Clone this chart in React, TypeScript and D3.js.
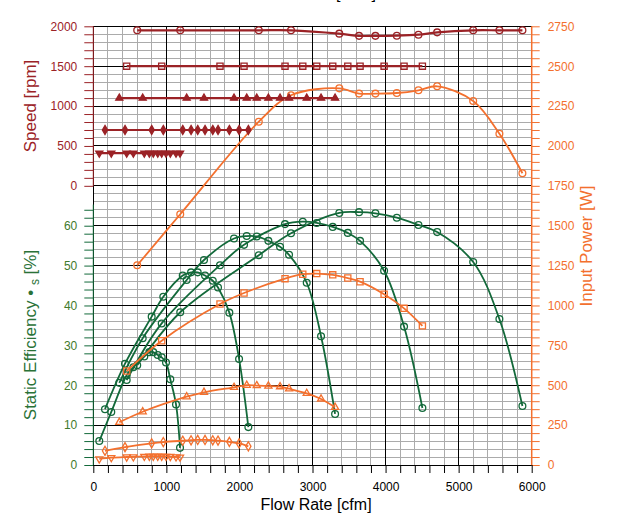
import { useEffect, useRef } from 'react'
import * as d3 from 'd3'

// 1950 rpm
const flow1950 = [601, 1190, 2265, 2706, 3367, 3637, 3861, 4154, 4450, 4706, 5199, 5558, 5873]
const speed1950 = [1950, 1950, 1950, 1950, 1908, 1880, 1880, 1882, 1895, 1924, 1950, 1950, 1950]
const eff1950 = [25.0, 38.3, 52.6, 58.1, 63.2, 63.4, 63.1, 62.0, 60.2, 58.4, 50.9, 36.6, 14.8]
const power1950 = [1252, 1572, 2152, 2318, 2361, 2328, 2328, 2332, 2349, 2374, 2282, 2077, 1829]

// 1500 rpm
const flow1500 = [457, 936, 1734, 2063, 2624, 2867, 3058, 3277, 3483, 3651, 3980, 4253, 4504]
const speed1500 = [1500, 1500, 1500, 1500, 1500, 1500, 1500, 1500, 1500, 1500, 1500, 1500, 1500]
const eff1500 = [21.3, 35.5, 50.1, 55.2, 60.4, 61.0, 60.7, 59.7, 58.2, 56.2, 48.7, 34.7, 14.3]
const power1500 = [589, 779, 1009, 1078, 1168, 1196, 1200, 1192, 1172, 1149, 1070, 982, 872]

// 1100 rpm
const flow1100 = [356, 676, 1278, 1515, 1926, 2100, 2237, 2396, 2556, 2679, 2921, 3117, 3309]
const speed1100 = [1100, 1100, 1100, 1100, 1100, 1100, 1100, 1100, 1100, 1100, 1100, 1100, 1100]
const eff1100 = [20.6, 31.8, 46.4, 51.4, 56.8, 57.4, 57.3, 56.2, 54.7, 52.7, 45.7, 32.3, 12.8]
const power1100 = [268, 334, 428, 456, 487, 500, 498, 495, 491, 478, 449, 414, 362]

// 700 rpm
const flow700 = [160, 434, 799, 958, 1224, 1338, 1429, 1529, 1635, 1707, 1862, 1995, 2122]
const speed700 = [700, 700, 700, 700, 700, 700, 700, 700, 700, 700, 700, 700, 700]
const eff700 = [14.0, 25.4, 37.2, 42.2, 47.5, 48.3, 48.3, 47.5, 46.2, 44.5, 38.2, 26.6, 9.5]
const power700 = [89, 112, 136, 144, 152, 155, 157, 157, 155, 153, 145, 135, 117]

// 400 rpm
const flow400 = [82, 246, 457, 548, 698, 767, 821, 882, 936, 995, 1054, 1132, 1187]
const speed400 = [410, 410, 410, 410, 410, 410, 410, 410, 410, 410, 410, 410, 410]
const eff400 = [6.0, 13.3, 22.5, 24.5, 27.2, 28.3, 28.3, 27.6, 27.0, 25.7, 21.5, 15.2, 4.3]
const power400 = [38, 46, 50, 51, 54, 55, 55, 55, 55, 54, 53, 51, 49]

type Mark = 'circle' | 'square' | 'triangle' | 'diamond' | 'triangleDown'

const series: Array<{ flow: number[]; speed: number[]; eff: number[]; power: number[]; mark: Mark }> = [
  { flow: flow1950, speed: speed1950, eff: eff1950, power: power1950, mark: 'circle' },
  { flow: flow1500, speed: speed1500, eff: eff1500, power: power1500, mark: 'square' },
  { flow: flow1100, speed: speed1100, eff: eff1100, power: power1100, mark: 'triangle' },
  { flow: flow700, speed: speed700, eff: eff700, power: power700, mark: 'diamond' },
  { flow: flow400, speed: speed400, eff: eff400, power: power400, mark: 'triangleDown' },
]

const W = 619
const H = 529
const RED = '#9b2226'
const GREEN = '#13693a'
const ORANGE = '#f3702e'
const FONT = 'Liberation Sans, Arial, sans-serif'

export default function App() {
  const svgRef = useRef<SVGSVGElement | null>(null)

  useEffect(() => {
    if (!svgRef.current) return
    const svg = d3.select(svgRef.current)
    svg.selectAll('*').remove()

    const left = 93.3,
      right = 531.7,
      top = 26.3,
      bottom = 465

    const x = d3.scaleLinear().domain([0, 6000]).range([left, right])
    const yPow = d3.scaleLinear().domain([0, 2750]).range([bottom, top])
    // 10 % = 250 W, 500 rpm = 250 W on the shared grid
    const yEff = d3.scaleLinear().domain([0, 110]).range([bottom, top])
    const ySpd = d3.scaleLinear().domain([-3500, 2000]).range([bottom, top])

    // grid
    const grid = svg.append('g').attr('shape-rendering', 'crispEdges')
    grid
      .selectAll('line.hm')
      .data(d3.range(0, 2751, 50).filter((v) => v % 250 !== 0))
      .join('line')
      .attr('x1', left)
      .attr('x2', right)
      .attr('y1', (d) => yPow(d))
      .attr('y2', (d) => yPow(d))
      .attr('stroke', '#ababab')
    grid
      .selectAll('line.vm')
      .data(d3.range(0, 6001, 200).filter((v) => v % 1000 !== 0))
      .join('line')
      .attr('x1', (d) => x(d))
      .attr('x2', (d) => x(d))
      .attr('y1', top)
      .attr('y2', bottom)
      .attr('stroke', '#ababab')
    grid
      .append('g')
      .selectAll('line')
      .data(d3.range(0, 2751, 250))
      .join('line')
      .attr('x1', left)
      .attr('x2', right)
      .attr('y1', (d) => yPow(d))
      .attr('y2', (d) => yPow(d))
      .attr('stroke', '#000')
    grid
      .append('g')
      .selectAll('line')
      .data(d3.range(0, 6001, 1000))
      .join('line')
      .attr('x1', (d) => x(d))
      .attr('x2', (d) => x(d))
      .attr('y1', top)
      .attr('y2', bottom)
      .attr('stroke', '#000')

    // axes
    const styleAxis = (g: any, color: string) => {
      g.select('.domain').remove()
      g.selectAll('line').attr('stroke', color)
      g.selectAll('text').attr('fill', color).attr('font-size', 12).attr('font-family', FONT)
    }

    const spdAxis = svg
      .append('g')
      .attr('transform', `translate(${left},0)`)
      .call(
        d3
          .axisLeft(ySpd)
          .tickValues(d3.range(0, 2001, 100))
          .tickFormat((d: any) => (d % 500 === 0 ? String(d) : ''))
          .tickSize(9)
          .tickPadding(7),
      )
    styleAxis(spdAxis, RED)
    svg
      .append('line')
      .attr('x1', left)
      .attr('x2', left)
      .attr('y1', top)
      .attr('y2', ySpd(0))
      .attr('stroke', RED)

    const effAxis = svg
      .append('g')
      .attr('transform', `translate(${left},0)`)
      .call(
        d3
          .axisLeft(yEff)
          .tickValues(d3.range(0, 65, 2))
          .tickFormat((d: any) => (d % 10 === 0 ? String(d) : ''))
          .tickSize(9)
          .tickPadding(7),
      )
    styleAxis(effAxis, GREEN)
    effAxis.selectAll('text').attr('fill', '#3f7a2c')
    svg
      .append('line')
      .attr('x1', left)
      .attr('x2', left)
      .attr('y1', yEff(65.3))
      .attr('y2', bottom)
      .attr('stroke', GREEN)

    const powAxis = svg
      .append('g')
      .attr('transform', `translate(${right},0)`)
      .call(
        d3
          .axisRight(yPow)
          .tickValues(d3.range(0, 2751, 50))
          .tickFormat((d: any) => (d % 250 === 0 ? String(d) : ''))
          .tickSize(8)
          .tickPadding(8),
      )
    styleAxis(powAxis, ORANGE)
    svg
      .append('line')
      .attr('x1', right)
      .attr('x2', right)
      .attr('y1', top)
      .attr('y2', bottom)
      .attr('stroke', ORANGE)
      .attr('stroke-width', 1.5)

    const flowAxis = svg
      .append('g')
      .attr('transform', `translate(0,${bottom})`)
      .call(
        d3
          .axisBottom(x)
          .tickValues(d3.range(0, 6001, 200))
          .tickFormat((d: any) => (d % 1000 === 0 ? String(d) : ''))
          .tickSize(8)
          .tickPadding(9.5),
      )
    styleAxis(flowAxis, '#000')

    // axis titles
    const title = (txt: string, cx: number, cy: number, color: string, rot: number) =>
      svg
        .append('text')
        .attr('transform', `translate(${cx},${cy}) rotate(${rot})`)
        .attr('text-anchor', 'middle')
        .attr('font-family', FONT)
        .attr('font-size', 17)
        .attr('fill', color)
        .text(txt)

    title('Speed [rpm]', 35.5, 106, RED, -90)
    title('Input Power [W]', 592, 246, ORANGE, -90)
    title('Flow Rate [cfm]', 316, 510, '#000', 0).attr('font-size', 16)
    // top title, cut off by the page edge like in the source picture
    svg
      .append('text')
      .attr('x', 376)
      .attr('y', -1.5)
      .attr('text-anchor', 'end')
      .attr('font-family', FONT)
      .attr('font-size', 16)
      .attr('fill', '#000')
      .text('Flow Rate [m³/s]')

    const effTitle = svg
      .append('text')
      .attr('transform', `translate(36,335) rotate(-90)`)
      .attr('text-anchor', 'middle')
      .attr('font-family', FONT)
      .attr('font-size', 17)
      .attr('fill', '#2a7237')
    effTitle.append('tspan').text('Static Efficiency • ')
    effTitle.append('tspan').attr('font-size', 12).attr('dy', 3).text('s')
    effTitle.append('tspan').attr('dy', -3).text(' [%]')

    // curves
    const curve = d3.curveCatmullRom.alpha(0.5)
    const symType = (m: Mark) =>
      m === 'circle'
        ? d3.symbolCircle
        : m === 'square'
          ? d3.symbolSquare
          : m === 'diamond'
            ? d3.symbolDiamond
            : d3.symbolTriangle
    const symSize = (m: Mark) =>
      m === 'circle' ? 36 : m === 'square' ? 38 : m === 'diamond' ? 24 : 22

    const drawSeries = (
      pts: Array<[number, number]>,
      color: string,
      mark: Mark,
      filled: boolean,
      width: number,
    ) => {
      const g = svg.append('g')
      g.append('path')
        .datum(pts)
        .attr('fill', 'none')
        .attr('stroke', color)
        .attr('stroke-width', width)
        .attr('d', d3.line().curve(curve)(pts))
      g.selectAll('path.m')
        .data(pts)
        .join('path')
        .attr('class', 'm')
        .attr(
          'transform',
          (d) => `translate(${d[0]},${d[1]})${mark === 'triangleDown' ? ' rotate(180)' : ''}`,
        )
        .attr('d', d3.symbol().type(symType(mark)).size(symSize(mark))() as string)
        .attr('fill', filled ? color : 'none')
        .attr('stroke', color)
        .attr('stroke-width', 1.3)
    }

    series.forEach((s) => {
      const pts = s.flow.map((f, i) => [x(f), yEff(s.eff[i])] as [number, number])
      drawSeries(pts, GREEN, 'circle', false, 1.8)
    })
    series.forEach((s) => {
      const pts = s.flow.map((f, i) => [x(f), yPow(s.power[i])] as [number, number])
      drawSeries(pts, ORANGE, s.mark, false, 1.8)
    })
    series.forEach((s) => {
      const pts = s.flow.map((f, i) => [x(f), ySpd(s.speed[i])] as [number, number])
      const filled = s.mark !== 'circle' && s.mark !== 'square'
      drawSeries(pts, RED, s.mark, filled, 2.2)
    })
  }, [])

  return (
    <svg
      ref={svgRef}
      width={W}
      height={H}
      style={{ position: 'absolute', left: 0, top: 0, background: '#fff' }}
    />
  )
}
